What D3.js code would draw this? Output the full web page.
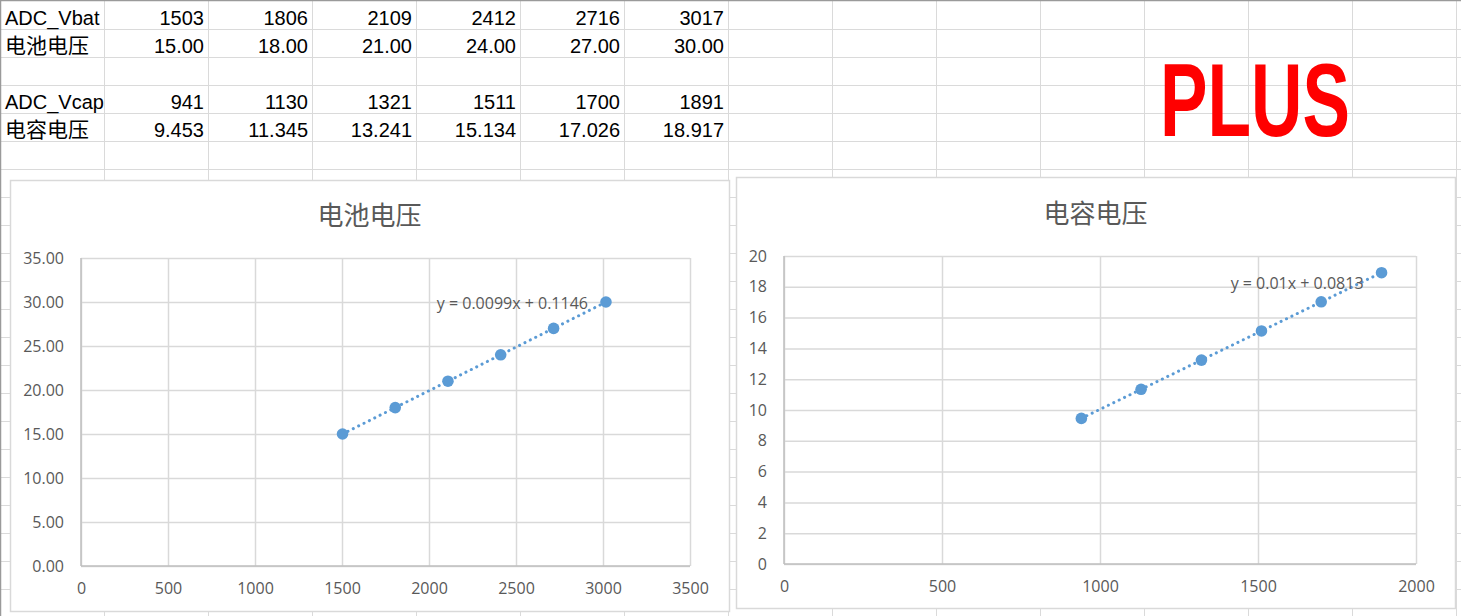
<!DOCTYPE html>
<html>
<head>
<meta charset="utf-8">
<script src="https://cdn.jsdelivr.net/npm/d3@7"></script>
<style>
  body { margin: 0; background: #fff; }
  svg { display: block; }
</style>
</head>
<body>
<div id="wrapper"></div>
<script>
// table + chart data
const adcVbat = [1503, 1806, 2109, 2412, 2716, 3017];
const vbat = [15.00, 18.00, 21.00, 24.00, 27.00, 30.00];
const adcVcap = [941, 1130, 1321, 1511, 1700, 1891];
const vcap = [9.453, 11.345, 13.241, 15.134, 17.026, 18.917];

const vbatXTicks = [0, 500, 1000, 1500, 2000, 2500, 3000, 3500];
const vbatYTicks = [0, 5, 10, 15, 20, 25, 30, 35];
const vcapXTicks = [0, 500, 1000, 1500, 2000];
const vcapYTicks = [0, 2, 4, 6, 8, 10, 12, 14, 16, 18, 20];

const vbatTitle = "电池电压";
const vcapTitle = "电容电压";
const vbatEquation = "y = 0.0099x + 0.1146";
const vcapEquation = "y = 0.01x + 0.0813";

const W = 1461, H = 616;
const colW = 104, rowH = 28;

const svg = d3.select("#wrapper").append("svg")
    .attr("width", W)
    .attr("height", H);

svg.append("rect").attr("width", W).attr("height", H).attr("fill", "#fff");

// sheet cell grid
const sheet = svg.append("g");
sheet.selectAll(".vcol")
    .data(d3.range(1, 15))
    .join("line")
    .attr("x1", d => d * colW + 0.5).attr("x2", d => d * colW + 0.5)
    .attr("y1", 0).attr("y2", H)
    .attr("stroke", "#dadada");
sheet.selectAll(".hrow")
    .data(d3.range(1, 23))
    .join("line")
    .attr("x1", 0).attr("x2", W)
    .attr("y1", d => d * rowH + 1.5).attr("y2", d => d * rowH + 1.5)
    .attr("stroke", "#dadada");
sheet.append("line").attr("x1", 0).attr("x2", W).attr("y1", 0.5).attr("y2", 0.5)
    .attr("stroke", "#9a9a9a").attr("stroke-width", 1.5);
sheet.append("line").attr("x1", 0.5).attr("x2", 0.5).attr("y1", 0).attr("y2", H)
    .attr("stroke", "#9a9a9a").attr("stroke-width", 1.5);

// table rows
const rows = [
    {label: "ADC_Vbat", values: adcVbat.map(String), row: 0},
    {label: "电池电压", values: vbat.map(d => d.toFixed(2)), row: 1},
    {label: "ADC_Vcap", values: adcVcap.map(String), row: 3},
    {label: "电容电压", values: vcap.map(d => d.toFixed(3)), row: 4}
];
const cellFont = "'Liberation Sans', 'Noto Sans CJK SC', sans-serif";
rows.forEach(r => {
    const base = r.row * rowH + 25;
    sheet.append("text")
        .attr("x", 5).attr("y", base)
        .style("font-family", cellFont)
        .style("font-size", /[A-Z]/.test(r.label) ? "20px" : "21px")
        .attr("fill", "#000")
        .text(r.label);
    sheet.selectAll(null)
        .data(r.values)
        .join("text")
        .attr("x", (d, i) => (i + 2) * colW - 4)
        .attr("y", base)
        .attr("text-anchor", "end")
        .style("font-family", cellFont)
        .style("font-size", "20px")
        .attr("fill", "#000")
        .text(d => d);
});

// big red PLUS
svg.append("text")
    .attr("x", 1160).attr("y", 136)
    .attr("textLength", 190)
    .attr("lengthAdjust", "spacingAndGlyphs")
    .style("font-family", "'Liberation Sans', Arial, sans-serif")
    .style("font-weight", "bold")
    .style("font-size", "103px")
    .attr("fill", "#ff0000")
    .text("PLUS");

const chartFont = "'Open Sans', 'Noto Sans CJK SC', sans-serif";
const textGrey = "#595959";
const blue = "#5b9bd5";

function linearFit(xs, ys) {
    const mx = d3.mean(xs), my = d3.mean(ys);
    const sxy = d3.sum(xs, (x, i) => (x - mx) * (ys[i] - my));
    const sxx = d3.sum(xs, x => (x - mx) * (x - mx));
    const slope = sxy / sxx;
    return {slope, intercept: my - slope * mx};
}

function buildChart(cfg) {
    const g = svg.append("g");
    g.append("rect")
        .attr("x", cfg.box.x + 0.5).attr("y", cfg.box.y + 0.5)
        .attr("width", cfg.box.w).attr("height", cfg.box.h)
        .attr("fill", "#fff")
        .attr("stroke", "#d9d9d9").attr("stroke-width", 1.5);

    g.append("text")
        .attr("x", cfg.box.x + cfg.box.w / 2)
        .attr("y", cfg.titleY)
        .attr("text-anchor", "middle")
        .attr("dominant-baseline", "central")
        .style("font-family", "'Noto Sans CJK SC', sans-serif")
        .style("font-size", "26px")
        .attr("fill", textGrey)
        .text(cfg.title);

    const xScale = d3.scaleLinear()
        .domain(d3.extent(cfg.xTicks))
        .range([cfg.plot.left, cfg.plot.right]);
    const yScale = d3.scaleLinear()
        .domain(d3.extent(cfg.yTicks))
        .range([cfg.plot.bottom, cfg.plot.top]);

    // gridlines
    g.append("g")
        .attr("transform", `translate(0, ${cfg.plot.bottom})`)
        .call(d3.axisBottom(xScale).tickValues(cfg.xTicks)
            .tickSize(-(cfg.plot.bottom - cfg.plot.top)).tickFormat(""))
        .call(a => a.select(".domain").remove())
        .call(a => a.selectAll("line").attr("stroke", "#d9d9d9").attr("stroke-width", 1.5));
    g.append("g")
        .attr("transform", `translate(${cfg.plot.left}, 0)`)
        .call(d3.axisLeft(yScale).tickValues(cfg.yTicks)
            .tickSize(-(cfg.plot.right - cfg.plot.left)).tickFormat(""))
        .call(a => a.select(".domain").remove())
        .call(a => a.selectAll("line").attr("stroke", "#d9d9d9").attr("stroke-width", 1.5));

    // axis lines
    g.append("line")
        .attr("x1", cfg.plot.left).attr("x2", cfg.plot.right)
        .attr("y1", cfg.plot.bottom).attr("y2", cfg.plot.bottom)
        .attr("stroke", "#bfbfbf").attr("stroke-width", 1.5);
    g.append("line")
        .attr("x1", cfg.plot.left).attr("x2", cfg.plot.left)
        .attr("y1", cfg.plot.top).attr("y2", cfg.plot.bottom)
        .attr("stroke", "#bfbfbf").attr("stroke-width", 1.5);

    // tick labels
    const xAxis = g.append("g")
        .attr("transform", `translate(0, ${cfg.plot.bottom + 22})`)
        .call(d3.axisBottom(xScale).tickValues(cfg.xTicks).tickSize(0).tickPadding(0)
            .tickFormat(d3.format("d")));
    xAxis.select(".domain").remove();
    xAxis.selectAll("text")
        .attr("dy", "0.35em")
        .style("font-family", chartFont).style("font-size", "16px")
        .attr("fill", textGrey);

    const yAxis = g.append("g")
        .attr("transform", `translate(${cfg.plot.left - 17}, 0)`)
        .call(d3.axisLeft(yScale).tickValues(cfg.yTicks).tickSize(0).tickPadding(0)
            .tickFormat(cfg.yFormat));
    yAxis.select(".domain").remove();
    yAxis.selectAll("text")
        .style("font-family", chartFont).style("font-size", "16px")
        .attr("fill", textGrey);

    // trendline over the data range
    const fit = linearFit(cfg.xs, cfg.ys);
    const [x0, x1] = d3.extent(cfg.xs);
    g.append("line")
        .attr("x1", xScale(x0)).attr("y1", yScale(fit.slope * x0 + fit.intercept))
        .attr("x2", xScale(x1)).attr("y2", yScale(fit.slope * x1 + fit.intercept))
        .attr("stroke", blue)
        .attr("stroke-width", 3)
        .attr("stroke-linecap", "round")
        .attr("stroke-dasharray", "0.1 5.9");

    // points
    g.selectAll(".pt")
        .data(cfg.xs.map((x, i) => [x, cfg.ys[i]]))
        .join("circle")
        .attr("cx", d => xScale(d[0]))
        .attr("cy", d => yScale(d[1]))
        .attr("r", 5.8)
        .attr("fill", blue);

    // equation label near the last point
    const last = cfg.xs.length - 1;
    g.append("text")
        .attr("x", xScale(cfg.xs[last]) + cfg.eqOffset[0])
        .attr("y", yScale(cfg.ys[last]) + cfg.eqOffset[1])
        .attr("text-anchor", "end")
        .attr("dominant-baseline", "central")
        .style("font-family", chartFont).style("font-size", "16px")
        .attr("fill", textGrey)
        .text(cfg.equation);
}

buildChart({
    box: {x: 10, y: 180, w: 719, h: 431},
    plot: {left: 81, right: 690, top: 258, bottom: 566},
    titleY: 213,
    title: vbatTitle,
    xs: adcVbat, ys: vbat,
    xTicks: vbatXTicks, yTicks: vbatYTicks,
    yFormat: d3.format(".2f"),
    equation: vbatEquation,
    eqOffset: [-18, 1]
});

buildChart({
    box: {x: 736, y: 177, w: 719, h: 431},
    plot: {left: 784, right: 1416, top: 256, bottom: 564},
    titleY: 211,
    title: vcapTitle,
    xs: adcVcap, ys: vcap,
    xTicks: vcapXTicks, yTicks: vcapYTicks,
    yFormat: d3.format("d"),
    equation: vcapEquation,
    eqOffset: [-18, 10]
});
</script>
</body>
</html>
